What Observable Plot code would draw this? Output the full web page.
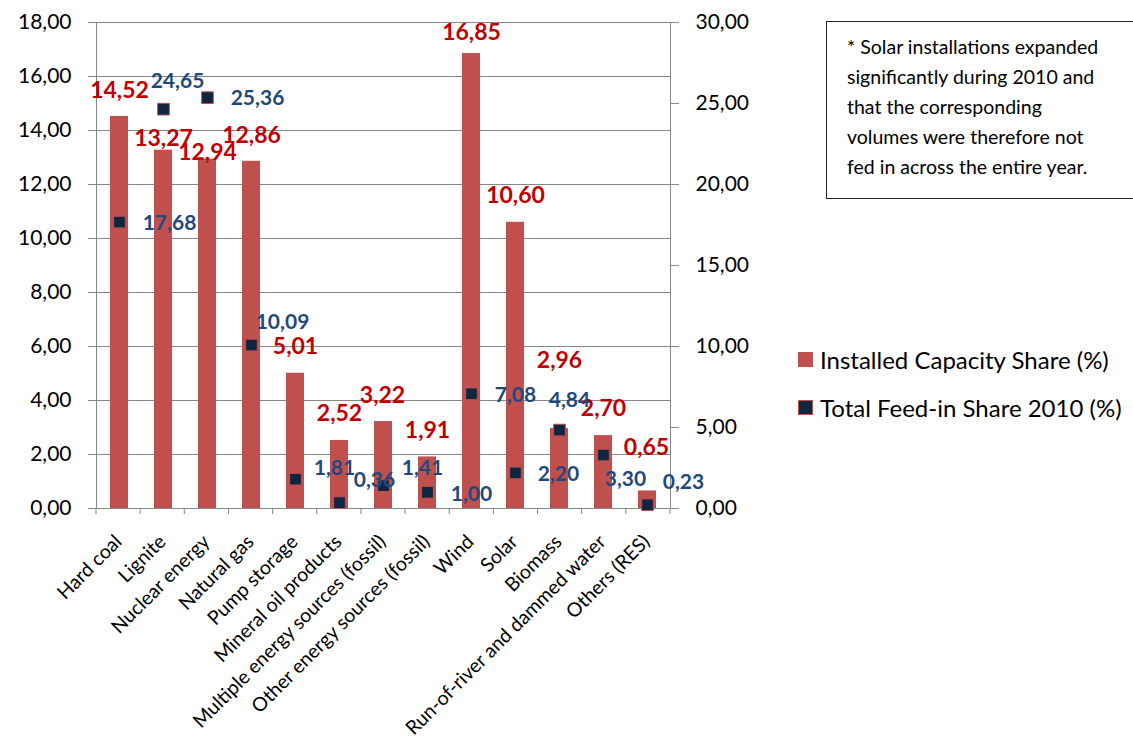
<!DOCTYPE html>
<html>
<head>
<meta charset="utf-8">
<script src="https://cdn.jsdelivr.net/npm/d3@7"></script>
<script src="https://cdn.jsdelivr.net/npm/@observablehq/plot@0.6"></script>
<style>
  body { margin: 0; background: #fff; font-family: Lato, "Open Sans", sans-serif; }
  #wrap { position: relative; width: 1133px; height: 742px; overflow: hidden; }
  #wrap svg { position: absolute; left: 0; top: 0; }
  #note {
    position: absolute; left: 826px; top: 21px; width: 330px; height: 178px;
    box-sizing: border-box; border: 1.5px solid #222; padding: 10px 0 0 20px;
    font-size: 19.5px; line-height: 30px; color: #000; white-space: nowrap;
  }
  .legend { position: absolute; left: 798px; font-size: 24px; color: #000; display: flex; align-items: center; white-space: nowrap; }
  .legend .sw { width: 15px; height: 15px; margin-right: 7px; box-sizing: border-box; }
</style>
</head>
<body>
<div id="wrap"></div>
<script>
// Energy sources
const categories = [
  "Hard coal", "Lignite", "Nuclear energy", "Natural gas", "Pump storage",
  "Mineral oil products", "Multiple energy sources (fossil)", "Other energy sources (fossil)",
  "Wind", "Solar", "Biomass", "Run-of-river and dammed water", "Others (RES)"
];
// Installed capacity share (%), left axis
const capacityShare = [14.52, 13.27, 12.94, 12.86, 5.01, 2.52, 3.22, 1.91, 16.85, 10.60, 2.96, 2.70, 0.65];
// Total feed-in share 2010 (%), right axis
const feedInShare = [17.68, 24.65, 25.36, 10.09, 1.81, 0.36, 1.41, 1.00, 7.08, 2.20, 4.84, 3.30, 0.23];

const leftTicks = [0, 2, 4, 6, 8, 10, 12, 14, 16, 18];
const rightTicks = [0, 5, 10, 15, 20, 25, 30];

const seriesNames = ["Installed Capacity Share (%)", "Total Feed-in Share 2010 (%)"];
const noteLines = [
  "* Solar installations expanded",
  "significantly during 2010 and",
  "that the corresponding",
  "volumes were therefore not",
  "fed in across the entire year."
];

// Label nudges in pixels, [dx, dy], relative to the bar top / the marker
const capacityLabelNudge = [[0,-26],[0,-12],[0,-6],[0,-26],[0,-27],[0,-27],[-1,-26],[0,-26],[0,-21],[0,-27],[0,-68],[0,-27],[-1,-43]];
const feedInLabelNudge = [[50,1],[14,-28],[50,1],[31,-23],[39,-11],[35,-22],[39,-17],[44,2],[44,1],[43,1],[10,-30],[22,24],[36,-23]];

const leftMax = 18, rightMax = 30;
const toLeft = v => v * leftMax / rightMax;
const fmt = v => d3.format(".2f")(v).replace(".", ",");

const red = "#c0504d", navy = "#10253f", labelRed = "#c00000", labelBlue = "#1f497d", axisGray = "#868686";

const rows = categories.map((c, i) => ({category: c, capacity: capacityShare[i], feedIn: feedInShare[i], i}));

// Tick marks on the category axis, placed at the boundaries between categories
function categoryBoundaryTicks(index, scales, values, dims) {
  const g = d3.create("svg:g").attr("stroke", axisGray).attr("stroke-width", 1);
  const step = (dims.width - dims.marginLeft - dims.marginRight) / categories.length;
  const y0 = scales.y(0);
  for (let k = 0; k <= categories.length; ++k) {
    const x = dims.marginLeft + k * step;
    g.append("line").attr("x1", x).attr("x2", x).attr("y1", y0).attr("y2", y0 + 6);
  }
  return g.node();
}

const capacityLabels = rows.map(r => Plot.text([r], {
  x: "category", y: "capacity", text: d => fmt(d.capacity),
  dx: capacityLabelNudge[r.i][0], dy: capacityLabelNudge[r.i][1],
  fill: labelRed, fontWeight: "bold", fontSize: 23
}));
const feedInLabels = rows.map(r => Plot.text([r], {
  x: "category", y: d => toLeft(d.feedIn), text: d => fmt(d.feedIn),
  dx: feedInLabelNudge[r.i][0], dy: feedInLabelNudge[r.i][1],
  fill: labelBlue, fontWeight: "bold", fontSize: 21
}));

const chart = Plot.plot({
  width: 1133, height: 742,
  marginLeft: 96, marginRight: 463, marginTop: 22, marginBottom: 234,
  style: {fontFamily: "Lato, 'Open Sans', sans-serif", background: "transparent", overflow: "visible"},
  x: {domain: categories, paddingInner: 0.59, paddingOuter: 0.295, label: null},
  y: {domain: [0, leftMax], label: null},
  marks: [
    Plot.gridY(leftTicks, {stroke: axisGray, strokeOpacity: 1}),
    Plot.axisY(leftTicks, {anchor: "left", tickFormat: fmt, tickSize: 8, tickPadding: 17, fontSize: 21, color: "#000", stroke: axisGray, label: null}),
    Plot.axisY(rightTicks.map(toLeft), {anchor: "right", tickFormat: d => fmt(d * rightMax / leftMax), tickSize: 8, tickPadding: 17, fontSize: 21, color: "#000", stroke: axisGray, label: null}),
    Plot.axisX({tickSize: 0, tickPadding: 30, dx: -1, tickRotate: -45, fontSize: 19.5, color: "#000", label: null}),
    Plot.barY(rows, {x: "category", y: "capacity", fill: red}),
    Plot.frame({stroke: axisGray}),
    categoryBoundaryTicks,
    Plot.dot(rows, {x: "category", y: d => toLeft(d.feedIn), symbol: "square", r: 6.6, fill: navy, stroke: red, strokeWidth: 1}),
    ...capacityLabels,
    ...feedInLabels
  ]
});

const wrap = document.getElementById("wrap");
wrap.appendChild(chart);

const note = document.createElement("div");
note.id = "note";
for (const line of noteLines) {
  const div = document.createElement("div");
  div.textContent = line;
  note.appendChild(div);
}
wrap.appendChild(note);

const legendItems = [
  {name: seriesNames[0], top: 345, fill: red, border: "none"},
  {name: seriesNames[1], top: 393, fill: navy, border: "1.5px solid " + red}
];
for (const item of legendItems) {
  const row = document.createElement("div");
  row.className = "legend";
  row.style.top = item.top + "px";
  const sw = document.createElement("span");
  sw.className = "sw";
  sw.style.background = item.fill;
  sw.style.border = item.border;
  const label = document.createElement("span");
  label.textContent = item.name;
  row.appendChild(sw);
  row.appendChild(label);
  wrap.appendChild(row);
}
</script>
</body>
</html>
